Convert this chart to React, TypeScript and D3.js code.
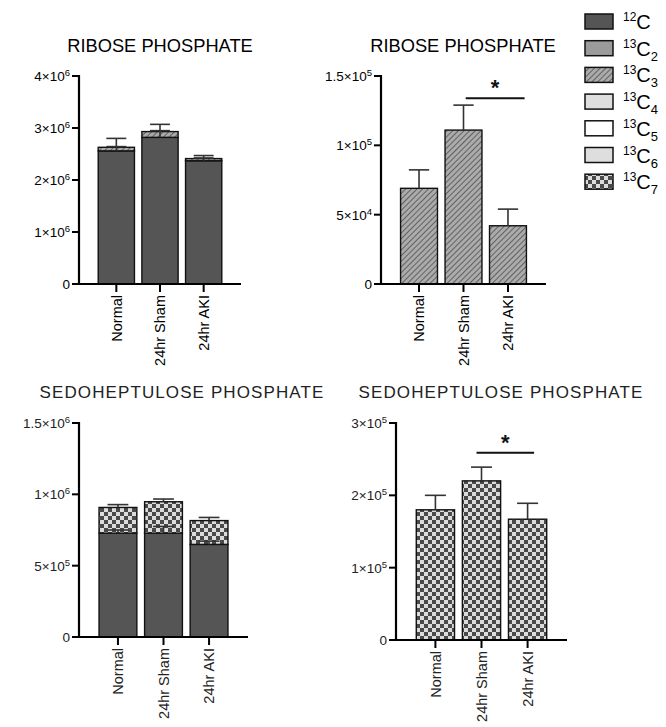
import React from "react";
import * as d3 from "d3";

const groups = ["Normal", "24hr Sham", "24hr AKI"];

// Ribose phosphate (stacked: 12C + 13C3) and 13C3 alone
const ribose12C = [2.56e6, 2.82e6, 2.37e6];
const ribose12CErr = [0.24e6, 0.25e6, 0.1e6];
const ribose13C3 = [6.9e4, 1.11e5, 4.2e4];
const ribose13C3Err = [1.33e4, 1.8e4, 1.2e4];

// Sedoheptulose phosphate (stacked: 12C + 13C7) and 13C7 alone
const sedo12C = [7.28e5, 7.28e5, 6.49e5];
const sedo12CErr = [2.2e4, 4.7e4, 2.3e4];
const sedo13C7 = [1.8e5, 2.2e5, 1.67e5];
const sedo13C7Err = [2.0e4, 1.9e4, 2.2e4];

const riboseTotalTicks = [0, 1e6, 2e6, 3e6, 4e6];
const riboseC3Ticks = [0, 5e4, 1e5, 1.5e5];
const sedoTotalTicks = [0, 5e5, 1e6, 1.5e6];
const sedoC7Ticks = [0, 1e5, 2e5, 3e5];

const legendMass = ["12", "13", "13", "13", "13", "13", "13"];
const legendSub = ["", "2", "3", "4", "5", "6", "7"];
const legendFills = ["#555555", "#9b9b9b", "url(#hatch)", "#dedede", "#ffffff", "#dedede", "url(#checker)"];

const FONT = "'Liberation Sans', Arial, sans-serif";
const C12 = "#555555";

type Series = { values: number[]; errs: number[]; fill: string };
type PanelCfg = {
  title: string;
  titleX: number;
  titleY: number;
  titleSize: number;
  titleSpacing: number;
  axisX: number;
  axisEnd: number;
  yTop: number;
  yZero: number;
  max: number;
  ticks: number[];
  series: Series[];
  sig?: { from: string; ff: number; to: string; tf: number; v: number };
  text: string;
};

function TickLabel({ v, x, y, color }: { v: number; x: number; y: number; color: string }) {
  if (v === 0) {
    return (
      <text x={x} y={y} dy="0.36em" textAnchor="end" fontSize={13.5} fill={color} fontFamily={FONT}>
        0
      </text>
    );
  }
  const e = Math.floor(Math.log10(v) + 1e-9);
  const m = +(v / Math.pow(10, e)).toFixed(2);
  return (
    <text x={x} y={y} dy="0.36em" textAnchor="end" fontSize={13.5} fill={color} fontFamily={FONT}>
      {`${m}×10`}
      <tspan fontSize={9.5} dy={-5}>{e}</tspan>
    </text>
  );
}

function Panel({ cfg }: { cfg: PanelCfg }) {
  const x = d3
    .scaleBand<string>()
    .domain(groups)
    .range([cfg.axisX, cfg.axisEnd])
    .paddingInner(0.17)
    .paddingOuter(0.44);
  const y = d3.scaleLinear().domain([0, cfg.max]).range([cfg.yZero, cfg.yTop]);
  const bw = x.bandwidth();
  const capW = bw * 0.55;

  const rects: React.ReactNode[] = [];
  const errs: React.ReactNode[] = [];
  groups.forEach((g, gi) => {
    let base = 0;
    cfg.series.forEach((s, si) => {
      const v = s.values[gi];
      const top = base + v;
      const x0 = x(g)!;
      rects.push(
        <rect
          key={`r${gi}-${si}`}
          x={x0}
          y={y(top)}
          width={bw}
          height={y(base) - y(top)}
          fill={s.fill}
          stroke="#111"
          strokeWidth={1.4}
        />
      );
      const cx = x0 + bw / 2;
      const ye = y(top + s.errs[gi]);
      errs.push(
        <g key={`e${gi}-${si}`} stroke="#333" strokeWidth={1.6}>
          <line x1={cx} x2={cx} y1={y(top)} y2={ye} />
          <line x1={cx - capW / 2} x2={cx + capW / 2} y1={ye} y2={ye} />
        </g>
      );
      base = top;
    });
  });

  let sig: React.ReactNode = null;
  if (cfg.sig) {
    const x1 = x(cfg.sig.from)! + cfg.sig.ff * bw;
    const x2 = x(cfg.sig.to)! + cfg.sig.tf * bw;
    const ys = y(cfg.sig.v);
    sig = (
      <g>
        <line x1={x1} x2={x2} y1={ys} y2={ys} stroke="#111" strokeWidth={2} />
        <text
          x={(x1 + x2) / 2}
          y={ys - 3}
          textAnchor="middle"
          fontSize={22}
          fontWeight="bold"
          fontFamily={FONT}
          fill="#111"
        >
          *
        </text>
      </g>
    );
  }

  return (
    <g>
      <text
        x={cfg.titleX}
        y={cfg.titleY}
        textAnchor="middle"
        fontSize={cfg.titleSize}
        letterSpacing={cfg.titleSpacing}
        fontFamily={FONT}
        fill={cfg.text}
      >
        {cfg.title}
      </text>
      {rects}
      {errs}
      {sig}
      {/* y axis */}
      <line x1={cfg.axisX} x2={cfg.axisX} y1={cfg.yTop - 1} y2={cfg.yZero + 1} stroke="#000" strokeWidth={2.2} />
      {cfg.ticks.map((t) => (
        <g key={`t${t}`}>
          <line x1={cfg.axisX - 7} x2={cfg.axisX} y1={y(t)} y2={y(t)} stroke="#000" strokeWidth={2} />
          <TickLabel v={t} x={cfg.axisX - 9} y={y(t)} color={cfg.text} />
        </g>
      ))}
      {/* x axis */}
      <line x1={cfg.axisX - 7} x2={cfg.axisEnd} y1={cfg.yZero} y2={cfg.yZero} stroke="#000" strokeWidth={2.2} />
      {groups.map((g) => {
        const cx = x(g)! + bw / 2;
        return (
          <g key={`x${g}`}>
            <line x1={cx} x2={cx} y1={cfg.yZero} y2={cfg.yZero + 8} stroke="#000" strokeWidth={2} />
            <text
              transform={`translate(${cx},${cfg.yZero + 11}) rotate(-90)`}
              dy="0.36em"
              textAnchor="end"
              fontSize={14.5}
              fontFamily={FONT}
              fill={cfg.text}
            >
              {g}
            </text>
          </g>
        );
      })}
    </g>
  );
}

const panels: PanelCfg[] = [
  {
    title: "RIBOSE PHOSPHATE",
    titleX: 160,
    titleY: 52,
    titleSize: 18.3,
    titleSpacing: 0,
    axisX: 79,
    axisEnd: 241,
    yTop: 76,
    yZero: 284,
    max: 4e6,
    ticks: riboseTotalTicks,
    series: [
      { values: ribose12C, errs: ribose12CErr, fill: C12 },
      { values: ribose13C3, errs: ribose13C3Err, fill: "url(#hatch)" },
    ],
    text: "#000",
  },
  {
    title: "RIBOSE PHOSPHATE",
    titleX: 463,
    titleY: 52,
    titleSize: 18.3,
    titleSpacing: 0,
    axisX: 381,
    axisEnd: 546,
    yTop: 76,
    yZero: 284,
    max: 1.5e5,
    ticks: riboseC3Ticks,
    series: [{ values: ribose13C3, errs: ribose13C3Err, fill: "url(#hatch)" }],
    sig: { from: "24hr Sham", ff: 0.56, to: "24hr AKI", tf: 0.95, v: 1.34e5 },
    text: "#000",
  },
  {
    title: "SEDOHEPTULOSE PHOSPHATE",
    titleX: 182,
    titleY: 398,
    titleSize: 17,
    titleSpacing: 1.1,
    axisX: 79,
    axisEnd: 248,
    yTop: 423,
    yZero: 637,
    max: 1.5e6,
    ticks: sedoTotalTicks,
    series: [
      { values: sedo12C, errs: sedo12CErr, fill: C12 },
      { values: sedo13C7, errs: sedo13C7Err, fill: "url(#checker)" },
    ],
    text: "#222",
  },
  {
    title: "SEDOHEPTULOSE PHOSPHATE",
    titleX: 501,
    titleY: 398,
    titleSize: 17,
    titleSpacing: 1.1,
    axisX: 396,
    axisEnd: 567,
    yTop: 423,
    yZero: 640,
    max: 3e5,
    ticks: sedoC7Ticks,
    series: [{ values: sedo13C7, errs: sedo13C7Err, fill: "url(#checker)" }],
    sig: { from: "24hr Sham", ff: 0.37, to: "24hr AKI", tf: 0.67, v: 2.59e5 },
    text: "#222",
  },
];

function Legend() {
  const ly = d3.scaleLinear().domain([0, 1]).range([14, 40.7]);
  return (
    <g>
      {legendFills.map((f, i) => {
        const y0 = ly(i);
        return (
          <g key={`l${i}`}>
            <rect x={585} y={y0} width={28} height={15} fill={f} stroke="#111" strokeWidth={1.5} />
            <text x={623} y={y0 + 15} fontFamily={FONT} fill="#000">
              <tspan fontSize={12} dy={-8}>{legendMass[i]}</tspan>
              <tspan fontSize={20} dy={8}>C</tspan>
              {legendSub[i] ? (
                <tspan fontSize={13} dy={5}>{legendSub[i]}</tspan>
              ) : null}
            </text>
          </g>
        );
      })}
    </g>
  );
}

export default function App() {
  return (
    <svg
      width={666}
      height={727}
      viewBox="0 0 666 727"
      style={{ position: "absolute", left: 0, top: 0, background: "#fff" }}
    >
      <defs>
        <pattern id="hatch" patternUnits="userSpaceOnUse" width={4} height={4} patternTransform="rotate(45)">
          <rect width={4} height={4} fill="#ababab" />
          <line x1={0} y1={0} x2={0} y2={4} stroke="#4a4a4a" strokeWidth={1.5} />
        </pattern>
        <pattern id="checker" patternUnits="userSpaceOnUse" width={8} height={8}>
          <rect width={8} height={8} fill="#dcdcdc" />
          <rect width={4} height={4} fill="#4a4a4a" />
          <rect x={4} y={4} width={4} height={4} fill="#4a4a4a" />
        </pattern>
      </defs>
      <rect width={666} height={727} fill="#fff" />
      {panels.map((p, i) => (
        <Panel key={i} cfg={p} />
      ))}
      <Legend />
    </svg>
  );
}
